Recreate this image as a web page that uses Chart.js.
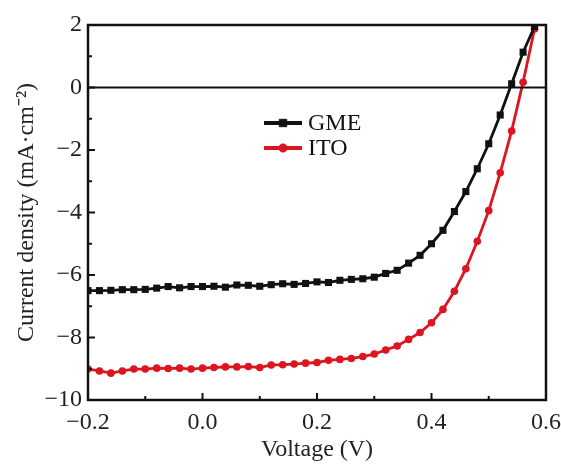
<!DOCTYPE html>
<html>
<head>
<meta charset="utf-8">
<script src="https://cdn.jsdelivr.net/npm/chart.js@4.4.1/dist/chart.umd.min.js"></script>
<style>
  body { margin: 0; background: #fff; }
  canvas { display: block; }
</style>
</head>
<body>
<canvas id="chart" width="561" height="464"></canvas>
<script>
// voltage sweep, 0.02 V steps
const voltage = [-0.20, -0.18, -0.16, -0.14, -0.12, -0.10, -0.08, -0.06, -0.04, -0.02,
  0.00, 0.02, 0.04, 0.06, 0.08, 0.10, 0.12, 0.14, 0.16, 0.18,
  0.20, 0.22, 0.24, 0.26, 0.28, 0.30, 0.32, 0.34, 0.36, 0.38,
  0.40, 0.42, 0.44, 0.46, 0.48, 0.50, 0.52, 0.54, 0.56, 0.58];
const gme = [-6.50, -6.50, -6.49, -6.47, -6.47, -6.46, -6.42, -6.37, -6.41, -6.37,
  -6.37, -6.36, -6.39, -6.32, -6.33, -6.36, -6.31, -6.28, -6.30, -6.27,
  -6.22, -6.24, -6.17, -6.14, -6.12, -6.07, -5.95, -5.85, -5.62, -5.37,
  -5.00, -4.57, -3.97, -3.33, -2.60, -1.80, -0.88, 0.12, 1.13, 1.95];
const ito = [-9.01, -9.07, -9.14, -9.07, -9.01, -9.01, -8.98, -8.99, -8.98, -9.01,
  -8.98, -8.96, -8.94, -8.94, -8.93, -8.96, -8.88, -8.87, -8.85, -8.82,
  -8.80, -8.73, -8.70, -8.67, -8.61, -8.53, -8.40, -8.27, -8.06, -7.84,
  -7.53, -7.10, -6.52, -5.80, -4.92, -3.94, -2.73, -1.39, 0.17, 1.87];
const seriesNames = ["GME", "ITO"];
const xTicks = [-0.2, 0.0, 0.2, 0.4, 0.6];
const yTicks = [2, 0, -2, -4, -6, -8, -10];

const SERIF = "'Liberation Serif', 'Times New Roman', serif";
const minus = (s) => s.replace("-", "\u2212");

function toPoints(ys) {
  return voltage.map((v, i) => ({ x: v, y: ys[i] }));
}

// box, zero line, inward ticks, inner legend
const framePlugin = {
  id: "frame",
  afterDatasetsDraw(chart) {
    const { ctx, chartArea: a, scales } = chart;
    const xs = scales.x, ys = scales.y;
    ctx.save();
    ctx.strokeStyle = "#111";
    ctx.lineWidth = 2;
    const y0 = ys.getPixelForValue(0);
    ctx.beginPath();
    ctx.moveTo(a.left, y0);
    ctx.lineTo(a.right, y0);
    ctx.stroke();

    for (let v = -0.1; v < 0.6; v += 0.1) {
      const major = Math.abs(Math.round(v * 10)) % 2 === 0;
      const px = xs.getPixelForValue(v);
      ctx.beginPath();
      ctx.moveTo(px, a.bottom);
      ctx.lineTo(px, a.bottom - (major ? 7 : 4));
      ctx.stroke();
    }
    for (let v = -9; v < 2; v += 1) {
      const major = v % 2 === 0;
      const py = ys.getPixelForValue(v);
      ctx.beginPath();
      ctx.moveTo(a.left, py);
      ctx.lineTo(a.left + (major ? 7 : 4), py);
      ctx.stroke();
    }

    ctx.lineWidth = 2.5;
    ctx.strokeRect(a.left, a.top, a.right - a.left, a.bottom - a.top);

    // legend
    const lx = 264, rows = [123, 148];
    chart.data.datasets.forEach((ds, i) => {
      const y = rows[i];
      ctx.strokeStyle = ds.borderColor;
      ctx.fillStyle = ds.backgroundColor;
      ctx.lineWidth = 4;
      ctx.beginPath();
      ctx.moveTo(lx, y);
      ctx.lineTo(lx + 38, y);
      ctx.stroke();
      ctx.lineWidth = 0.5;
      Chart.helpers.drawPoint(ctx, {
        pointStyle: ds.pointStyle, radius: ds.pointRadius + 0.5, borderWidth: 0.5
      }, lx + 19, y);
      ctx.fillStyle = "#111";
      ctx.font = "24px " + SERIF;
      ctx.textBaseline = "middle";
      ctx.fillText(ds.label, lx + 44, y + 1);
    });
    ctx.restore();
  }
};

new Chart(document.getElementById("chart"), {
  type: "scatter",
  data: {
    datasets: [
      {
        label: seriesNames[0],
        data: toPoints(gme),
        showLine: true,
        borderColor: "#111111",
        backgroundColor: "#111111",
        borderWidth: 2.8,
        pointStyle: "rect",
        pointRadius: 5,
        pointBorderWidth: 0
      },
      {
        label: seriesNames[1],
        data: toPoints(ito),
        showLine: true,
        borderColor: "#dc1620",
        backgroundColor: "#dc1620",
        borderWidth: 2.8,
        pointStyle: "circle",
        pointRadius: 3.8,
        pointBorderWidth: 0
      }
    ]
  },
  options: {
    responsive: false,
    animation: false,
    layout: { padding: { top: 25, right: 15, left: 0, bottom: 0 } },
    plugins: {
      legend: { display: false },
      tooltip: { enabled: false }
    },
    scales: {
      x: {
        type: "linear",
        min: -0.2,
        max: 0.6,
        afterFit: (s) => { s.height = 64; s.paddingLeft = 0; s.paddingRight = 0; },
        afterBuildTicks: (s) => { s.ticks = xTicks.map((v) => ({ value: v })); },
        grid: { display: false, drawTicks: false },
        border: { display: false },
        ticks: {
          color: "#222",
          padding: 8,
          maxRotation: 0,
          font: { family: SERIF, size: 24 },
          callback: (v) => minus(Number(v).toFixed(1))
        },
        title: {
          display: true,
          text: "Voltage (V)",
          color: "#222",
          padding: { top: 0, bottom: 0 },
          font: { family: SERIF, size: 24 }
        }
      },
      y: {
        type: "linear",
        min: -10,
        max: 2,
        afterFit: (s) => { s.width = 88; s.paddingTop = 0; s.paddingBottom = 0; },
        afterBuildTicks: (s) => { s.ticks = yTicks.map((v) => ({ value: v })); },
        grid: { display: false, drawTicks: false },
        border: { display: false },
        ticks: {
          color: "#222",
          padding: 6,
          font: { family: SERIF, size: 24 },
          callback: (v) => minus(String(v))
        },
        title: {
          display: true,
          text: "Current density (mA\u00b7cm\u207b\u00b2)",
          color: "#222",
          padding: { top: 12, bottom: 0 },
          font: { family: SERIF, size: 24 }
        }
      }
    }
  },
  plugins: [framePlugin]
});
</script>
</body>
</html>
